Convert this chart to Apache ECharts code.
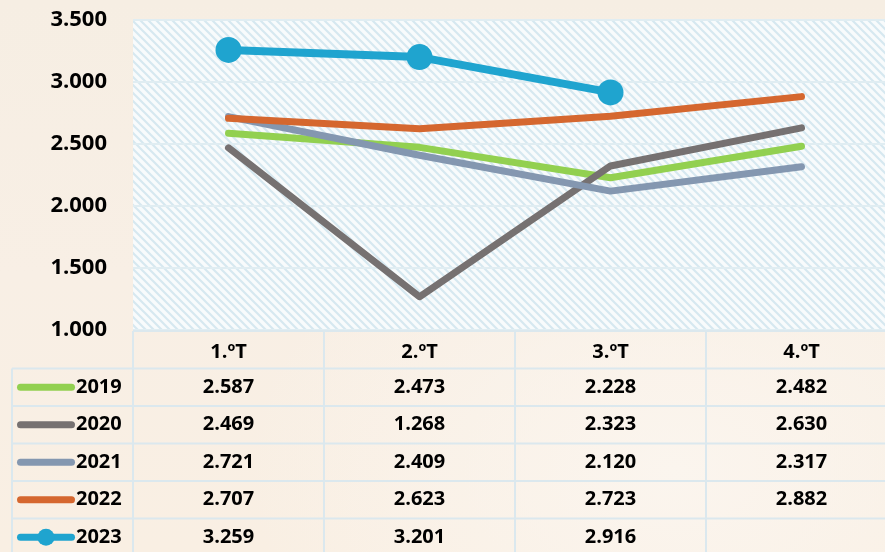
<!DOCTYPE html>
<html>
<head>
<meta charset="utf-8">
<script src="https://cdn.jsdelivr.net/npm/echarts@6/dist/echarts.min.js"></script>
<style>
  html, body { margin: 0; padding: 0; overflow: hidden; }
  #main {
    width: 900px; height: 552px;
    background: radial-gradient(ellipse at 75% 85%, #fbf5ee 0%, rgba(251,245,238,0) 45%),
                linear-gradient(180deg, #f6eee3 0%, #f8efe5 50%, #f9efe3 100%);
  }
</style>
</head>
<body>
<div id="main"></div>
<script>
// dados
const categories = ['1.ºT', '2.ºT', '3.ºT', '4.ºT'];
const years = ['2019', '2020', '2021', '2022', '2023'];
const v2019 = [2587, 2473, 2228, 2482];
const v2020 = [2469, 1268, 2323, 2630];
const v2021 = [2721, 2409, 2120, 2317];
const v2022 = [2707, 2623, 2723, 2882];
const v2023 = [3259, 3201, 2916, null];
const colors = ['#92d050', '#767171', '#8497b0', '#d5672f', '#1fa4cf'];

const fmt = n => (n == null ? '' : String(n).replace(/\B(?=(\d{3})+(?!\d))/g, '.'));

// padrão tracejado da área do gráfico
const pat = document.createElement('canvas');
pat.width = 8; pat.height = 8;
const pc = pat.getContext('2d');
pc.fillStyle = '#f8fbfc';
pc.fillRect(0, 0, 8, 8);
pc.strokeStyle = '#d6e8f0';
pc.lineWidth = 2.2;
pc.beginPath();
pc.moveTo(-2, -2); pc.lineTo(10, 10);
pc.moveTo(-10, -2); pc.lineTo(2, 10);
pc.moveTo(6, -2); pc.lineTo(18, 10);
pc.stroke();

const font = '"Open Sans", "Noto Sans", sans-serif';
const allData = [v2019, v2020, v2021, v2022, v2023];

const chart = echarts.init(document.getElementById('main'));

const series = years.map((y, i) => ({
  name: y,
  type: 'line',
  data: allData[i],
  symbol: i === 4 ? 'circle' : 'none',
  symbolSize: 26,
  showSymbol: i === 4,
  itemStyle: { color: colors[i] },
  lineStyle: { color: colors[i], width: i === 4 ? 8 : 7, cap: 'round', join: 'round' },
  z: 2 + i,
  animation: false
}));

chart.setOption({
  animation: false,
  grid: {
    left: 133, right: 3, top: 20, bottom: 222,
    show: true,
    borderWidth: 0,
    backgroundColor: { image: pat, repeat: 'repeat' }
  },
  xAxis: {
    type: 'category',
    data: categories,
    boundaryGap: true,
    axisLine: { show: false },
    axisTick: { show: false },
    axisLabel: { margin: 12, fontFamily: font, fontWeight: 'bold', fontSize: 20, color: '#000' }
  },
  yAxis: {
    type: 'value',
    min: 1000, max: 3500, interval: 500,
    axisLine: { show: false },
    axisTick: { show: false },
    axisLabel: { margin: 26, fontFamily: font, fontWeight: 'bold', fontSize: 22, color: '#000', formatter: fmt },
    splitLine: { lineStyle: { color: '#e0edf2', width: 2 } }
  },
  series: series
});

// tabela de dados
const cx = categories.map((c, i) => chart.convertToPixel({ xAxisIndex: 0 }, i));
const band = cx[1] - cx[0];
const yBottom = chart.convertToPixel({ yAxisIndex: 0 }, 1000);
const rowH = 37.5;
const lineCol = '#dbe8ee';
const g = [];
const left0 = 12;
const right0 = 900;
// linhas horizontais
for (let r = 0; r <= years.length + 1; r++) {
  const y = yBottom + 1 + r * rowH;
  g.push({ type: 'line', silent: true, shape: { x1: r === 0 ? cx[0] - band / 2 : left0, y1: y, x2: right0, y2: y },
    style: { stroke: lineCol, lineWidth: 2 } });
}
// linhas verticais
g.push({ type: 'line', silent: true, shape: { x1: left0, y1: yBottom + 1 + rowH, x2: left0, y2: 560 },
  style: { stroke: lineCol, lineWidth: 2 } });
for (let i = 0; i < categories.length; i++) {
  const x = cx[i] - band / 2;
  g.push({ type: 'line', silent: true, shape: { x1: x, y1: yBottom + 1, x2: x, y2: 560 },
    style: { stroke: lineCol, lineWidth: 2 } });
}
// legenda e valores
years.forEach((yr, r) => {
  const yc = yBottom + 1 + (r + 1) * rowH + rowH / 2;
  g.push({ type: 'line', silent: true, shape: { x1: 20.5, y1: yc, x2: 71.5, y2: yc },
    style: { stroke: colors[r], lineWidth: 7, lineCap: 'round' } });
  if (r === 4) {
    g.push({ type: 'circle', silent: true, shape: { cx: 46, cy: yc, r: 8.5 }, style: { fill: colors[r] } });
  }
  g.push({ type: 'text', silent: true, x: 76, y: yc,
    style: { text: yr, fontFamily: font, fontWeight: 'bold', fontSize: 20, fill: '#000',
      align: 'left', verticalAlign: 'middle' } });
  allData[r].forEach((v, i) => {
    if (v == null) return;
    g.push({
      type: 'text', silent: true,
      x: cx[i], y: yc,
      style: { text: fmt(v), fontFamily: font, fontWeight: 'bold', fontSize: 20, fill: '#000',
        align: 'center', verticalAlign: 'middle' }
    });
  });
});
chart.setOption({ graphic: g });
</script>
</body>
</html>
